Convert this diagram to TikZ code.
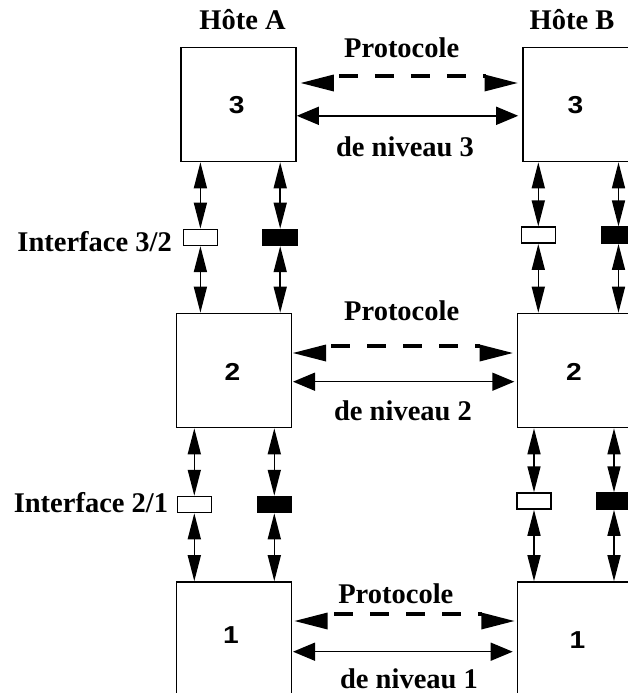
\documentclass[tikz,border=0pt]{standalone}
\usepackage{fontspec}
\setmainfont{Liberation Serif}
\newfontfamily\numfont[FakeStretch=1.15]{Liberation Sans}
\usetikzlibrary{arrows.meta}
\begin{document}
\begin{tikzpicture}[x=1pt,y=-1pt,
  layer/.style={draw, line width=1.6pt, minimum width=115pt, minimum height=114pt, inner sep=0pt},
  ibox/.style={draw, line width=1.5pt, minimum width=34pt, minimum height=16pt, inner sep=0pt},
  iwhite/.style={ibox, fill=white},
  iblack/.style={ibox, fill=black},
  lbl/.style={font=\fontsize{28.5}{30}\selectfont\bfseries, anchor=base, inner sep=0pt},
  digit/.style={font=\fontsize{24.5}{25}\selectfont\numfont\bfseries, anchor=base, inner sep=0pt},
  varrow/.style={line width=1.5pt, {Triangle[length=26pt,width=13pt]}-{Triangle[length=26pt,width=13pt]}},
  harrow/.style={line width=1.5pt, {Triangle[length=22pt,width=18pt]}-{Triangle[length=22pt,width=18pt]}},
  dline/.style={line width=4pt, dash pattern=on 19pt off 17pt},
  dhead/.style={fill=black},
]
\clip (0,0) rectangle (628,693);
\fill[white] (0,0) rectangle (628,693);

% layer boxes
\node[layer] (A3) at (238.5,104.5) {};
\node[layer] (B3) at (580.5,104.5) {};
\node[layer] (A2) at (234,370.5) {};
\node[layer] (B2) at (575,370.5) {};
\node[layer] (A1) at (234,639) {};
\node[layer] (B1) at (575,639) {};

% numbers
\node[digit] (nA3) at (236.7,113.3) {3};
\node[digit] (nB3) at (575.5,113.3) {3};
\node[digit] (nA2) at (232.5,380) {2};
\node[digit] (nB2) at (574,380) {2};
\node[digit] (nA1) at (231,643.3) {1};
\node[digit] (nB1) at (577.5,648.3) {1};

% labels
\node[lbl] (hA) at (242.6,30) {Hôte A};
\node[lbl] (hB) at (572,30) {Hôte B};
\node[lbl] (p3) at (401.7,58) {Protocole};
\node[lbl] (d3) at (405,156.7) {de niveau 3};
\node[lbl] (p2) at (401.7,320) {Protocole};
\node[lbl] (d2) at (403,420.7) {de niveau 2};
\node[lbl] (p1) at (395.8,603.3) {Protocole};
\node[lbl] (d1) at (409,688.5) {de niveau 1};
\node[lbl, anchor=base east] (if32) at (172,251.7) {Interface 3/2};
\node[lbl, anchor=base east] (if21) at (168.3,512) {Interface 2/1};

% interface boxes
\node[iwhite] (wA32) at (200.4,237.4) {};
\node[iblack] (bA32) at (280.2,237.4) {};
\node[iwhite] (wB32) at (538.3,235.2) {};
\node[iblack] (bB32) at (618.5,235.2) {};
\node[iwhite] (wA21) at (194.3,504.5) {};
\node[iblack] (bA21) at (274.3,504.5) {};
\node[iwhite] (wB21) at (534,501) {};
\node[iblack] (bB21) at (614,501) {};

% vertical arrows
\foreach \i/\up/\dn in {wA32/A3/A2, bA32/A3/A2, wB32/B3/B2, bB32/B3/B2,
                        wA21/A2/A1, bA21/A2/A1, wB21/B2/B1, bB21/B2/B1} {
  \draw[varrow] (\i.north |- \up.south) -- (\i.north);
  \draw[varrow] (\i.south) -- (\i.south |- \dn.north);
}

% horizontal solid arrows
\draw[harrow, shorten >=4pt] (A3.east |- 0,115.8) -- (B3.west |- 0,115.8);
\draw[harrow, shorten <=0.7pt, shorten >=2.4pt] (A2.east |- 0,381.7) -- (B2.west |- 0,381.7);
\draw[harrow, shorten <=0.7pt, shorten >=4pt] (A1.east |- 0,651.7) -- (B1.west |- 0,651.7);

% dashed protocol arrows
\draw[dline, shorten <=42pt, shorten >=36pt] (A3.east |- 0,75.5) -- (B3.west |- 0,75.5);
\fill[dhead] ([xshift=4pt]A3.east |- 0,83) -- ++(33,-8.5) -- ++(0,17) -- cycle;
\fill[dhead] ([xshift=-4.7pt]B3.west |- 0,83) -- ++(-33,-8.5) -- ++(0,17) -- cycle;

\draw[dline, shorten <=39pt, shorten >=37pt] (A2.east |- 0,345.5) -- (B2.west |- 0,345.5);
\fill[dhead] ([xshift=0.7pt]A2.east |- 0,353) -- ++(33,-8.5) -- ++(0,17) -- cycle;
\fill[dhead] ([xshift=-4pt]B2.west |- 0,353) -- ++(-33,-8.5) -- ++(0,17) -- cycle;

\draw[dline, shorten <=42pt, shorten >=35pt] (A1.east |- 0,613.5) -- (B1.west |- 0,613.5);
\fill[dhead] ([xshift=2.3pt]A1.east |- 0,621) -- ++(33,-8.5) -- ++(0,17) -- cycle;
\fill[dhead] ([xshift=-2.4pt]B1.west |- 0,621) -- ++(-33,-8.5) -- ++(0,17) -- cycle;
\end{tikzpicture}
\end{document}
